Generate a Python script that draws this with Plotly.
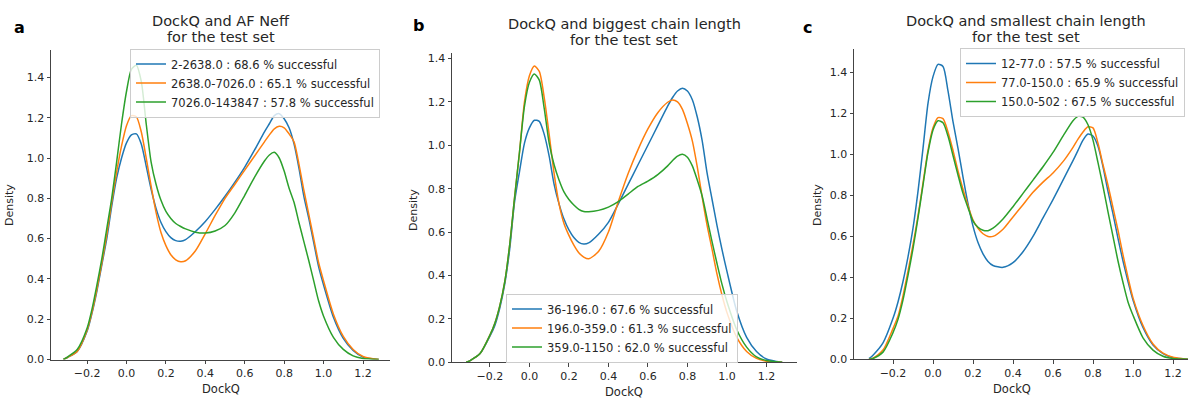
import plotly.graph_objects as go

# ---------------- data ----------------
dockq_grid = [-0.32, -0.30, -0.25, -0.20, -0.175, -0.15, -0.125, -0.10, -0.075, -0.05,
              -0.025, 0.0, 0.025, 0.05, 0.075, 0.10, 0.125, 0.15, 0.175, 0.20,
              0.225, 0.25, 0.275, 0.30, 0.35, 0.40, 0.45, 0.50, 0.55, 0.60,
              0.65, 0.70, 0.725, 0.75, 0.775, 0.80, 0.825, 0.85, 0.875, 0.90,
              0.925, 0.95, 0.975, 1.00, 1.05, 1.10, 1.15, 1.20, 1.25, 1.28]

# panel a: AF Neff
neff_labels = ["2-2638.0 : 68.6 % successful",
               "2638.0-7026.0 : 65.1 % successful",
               "7026.0-143847 : 57.8 % successful"]
neff_low = [0.0, 0.01, 0.04, 0.14, 0.23, 0.34, 0.47, 0.60, 0.76, 0.90,
            1.00, 1.075, 1.115, 1.12, 1.07, 0.96, 0.845, 0.75, 0.68, 0.635,
            0.605, 0.59, 0.587, 0.595, 0.635, 0.685, 0.745, 0.81, 0.88, 0.955,
            1.04, 1.13, 1.17, 1.21, 1.22, 1.195, 1.15, 1.07, 0.95, 0.81,
            0.70, 0.58, 0.46, 0.37, 0.21, 0.105, 0.045, 0.012, 0.003, 0.0]
neff_mid = [0.0, 0.01, 0.04, 0.145, 0.235, 0.35, 0.48, 0.62, 0.78, 0.93,
            1.06, 1.16, 1.21, 1.205, 1.13, 1.00, 0.86, 0.73, 0.63, 0.565,
            0.52, 0.495, 0.485, 0.49, 0.54, 0.625, 0.715, 0.80, 0.87, 0.94,
            1.01, 1.08, 1.115, 1.145, 1.157, 1.15, 1.12, 1.08, 0.97, 0.84,
            0.72, 0.60, 0.48, 0.39, 0.225, 0.115, 0.05, 0.015, 0.004, 0.0]
neff_high = [0.0, 0.012, 0.05, 0.155, 0.25, 0.37, 0.50, 0.65, 0.80, 0.98,
             1.17, 1.33, 1.44, 1.46, 1.38, 1.17, 0.98, 0.87, 0.79, 0.735,
             0.70, 0.675, 0.66, 0.648, 0.632, 0.628, 0.638, 0.665, 0.728, 0.815,
             0.905, 0.985, 1.015, 1.028, 1.00, 0.935, 0.85, 0.78, 0.68, 0.585,
             0.49, 0.39, 0.29, 0.215, 0.11, 0.05, 0.018, 0.005, 0.001, 0.0]

# panel b: biggest chain length
big_labels = ["36-196.0 : 67.6 % successful",
              "196.0-359.0 : 61.3 % successful",
              "359.0-1150 : 62.0 % successful"]
big_low = [0.0, 0.008, 0.04, 0.12, 0.17, 0.25, 0.36, 0.52, 0.74, 0.88,
           1.01, 1.08, 1.115, 1.11, 1.05, 0.95, 0.82, 0.73, 0.66, 0.61,
           0.575, 0.553, 0.545, 0.55, 0.59, 0.645, 0.73, 0.82, 0.91, 1.00,
           1.09, 1.18, 1.22, 1.25, 1.263, 1.25, 1.21, 1.13, 1.02, 0.87,
           0.75, 0.63, 0.52, 0.42, 0.235, 0.115, 0.05, 0.015, 0.004, 0.0]
big_mid = [0.0, 0.008, 0.04, 0.125, 0.18, 0.26, 0.37, 0.54, 0.76, 0.97,
           1.20, 1.32, 1.365, 1.34, 1.22, 1.05, 0.87, 0.73, 0.64, 0.585,
           0.54, 0.505, 0.485, 0.477, 0.51, 0.60, 0.74, 0.87, 0.98, 1.075,
           1.15, 1.198, 1.209, 1.20, 1.165, 1.10, 1.02, 0.90, 0.76, 0.63,
           0.52, 0.406, 0.31, 0.23, 0.115, 0.05, 0.018, 0.005, 0.001, 0.0]
big_high = [0.0, 0.008, 0.04, 0.125, 0.18, 0.26, 0.37, 0.54, 0.76, 0.97,
            1.18, 1.29, 1.328, 1.30, 1.17, 1.01, 0.91, 0.84, 0.785, 0.75,
            0.725, 0.705, 0.695, 0.694, 0.70, 0.715, 0.74, 0.775, 0.81, 0.835,
            0.865, 0.905, 0.93, 0.95, 0.958, 0.945, 0.905, 0.84, 0.765, 0.66,
            0.555, 0.455, 0.36, 0.28, 0.15, 0.07, 0.025, 0.008, 0.002, 0.0]

# panel c: smallest chain length
small_labels = ["12-77.0 : 57.5 % successful",
                "77.0-150.0 : 65.9 % successful",
                "150.0-502 : 67.5 % successful"]
small_low = [0.003, 0.02, 0.08, 0.20, 0.28, 0.38, 0.50, 0.64, 0.82, 1.03,
             1.25, 1.38, 1.44, 1.43, 1.31, 1.16, 1.03, 0.89, 0.76, 0.65,
             0.57, 0.515, 0.478, 0.458, 0.449, 0.472, 0.525, 0.60, 0.69, 0.78,
             0.875, 0.97, 1.02, 1.07, 1.10, 1.09, 1.04, 0.94, 0.82, 0.71,
             0.59, 0.48, 0.38, 0.29, 0.155, 0.07, 0.028, 0.008, 0.002, 0.0]
small_mid = [0.0, 0.005, 0.045, 0.15, 0.21, 0.31, 0.43, 0.56, 0.70, 0.86,
             1.02, 1.13, 1.18, 1.175, 1.11, 1.02, 0.92, 0.83, 0.75, 0.68,
             0.64, 0.613, 0.60, 0.60, 0.635, 0.695, 0.755, 0.815, 0.865, 0.91,
             0.965, 1.035, 1.075, 1.11, 1.135, 1.13, 1.055, 0.95, 0.85, 0.74,
             0.63, 0.51, 0.40, 0.30, 0.165, 0.075, 0.03, 0.01, 0.003, 0.0]
small_high = [0.0, 0.004, 0.035, 0.13, 0.195, 0.29, 0.41, 0.54, 0.69, 0.85,
              1.01, 1.12, 1.165, 1.155, 1.09, 0.995, 0.90, 0.81, 0.74, 0.675,
              0.645, 0.63, 0.628, 0.64, 0.685, 0.745, 0.81, 0.875, 0.94, 1.01,
              1.09, 1.165, 1.186, 1.182, 1.145, 1.07, 0.96, 0.845, 0.72, 0.60,
              0.48, 0.375, 0.28, 0.215, 0.105, 0.045, 0.015, 0.004, 0.001, 0.0]

panel_title_lines = [["DockQ and AF Neff", "for the test set"],
                     ["DockQ and biggest chain length", "for the test set"],
                     ["DockQ and smallest chain length", "for the test set"]]
panel_letters = ["a", "b", "c"]
x_tick_vals = [-0.2, 0.0, 0.2, 0.4, 0.6, 0.8, 1.0, 1.2]
x_tick_text = ["\u22120.2", "0.0", "0.2", "0.4", "0.6", "0.8", "1.0", "1.2"]
y_tick_vals = [0.0, 0.2, 0.4, 0.6, 0.8, 1.0, 1.2, 1.4]
y_tick_text = ["0.0", "0.2", "0.4", "0.6", "0.8", "1.0", "1.2", "1.4"]

# ---------------- styling ----------------
W, H = 1188, 398
FONT = "DejaVu Sans"
TXT = "#262626"
AX = "#444444"
colors = ["#1f77b4", "#ff7f0e", "#2ca02c"]


def px(x):
    return x / W


def py(y):
    return 1 - y / H


panels = [
    dict(series=[neff_low, neff_mid, neff_high], labels=neff_labels,
         xdom=(51, 390), ydom=(359.5, 50), xr=(-0.383, 1.337), yr=(0, 1.536),
         legend=(130, 48.5), letter=(19, 28), title=(221, 20.7, 36.7),
         ylab=(10, 205), xlab=(221, 389)),
    dict(series=[big_low, big_mid, big_high], labels=big_labels,
         xdom=(452, 797), ydom=(362.3, 53), xr=(-0.392, 1.355), yr=(0, 1.425),
         legend=(506, 293.5), letter=(418, 26), title=(624, 24, 39.5),
         ylab=(414, 210), xlab=(624, 391.5)),
    dict(series=[small_low, small_mid, small_high], labels=small_labels,
         xdom=(854, 1188), ydom=(359.3, 49), xr=(-0.395, 1.275), yr=(0, 1.515),
         legend=(960, 48), letter=(807, 28), title=(1026, 20.7, 36.5),
         ylab=(818, 205), xlab=(1012, 389)),
]

fig = go.Figure()
annotations = []
layout = {}
for i, p in enumerate(panels):
    sfx = "" if i == 0 else str(i + 1)
    leg = "legend" if i == 0 else "legend" + str(i + 1)
    for j, ys in enumerate(p["series"]):
        fig.add_trace(go.Scatter(
            x=dockq_grid, y=ys, mode="lines", name=p["labels"][j],
            line=dict(color=colors[j], width=1.5, shape="spline", smoothing=0.7),
            xaxis="x" + sfx, yaxis="y" + sfx, legend=leg, showlegend=True))
    common = dict(showgrid=False, zeroline=False, showline=True, linecolor=AX,
                  linewidth=1, ticks="outside", ticklen=3.5, tickwidth=1,
                  tickcolor=AX, automargin=False,
                  tickfont=dict(family=FONT, size=11, color=TXT))
    layout["xaxis" + sfx] = dict(common, domain=[px(p["xdom"][0]), px(p["xdom"][1])],
                                 range=list(p["xr"]), anchor="y" + sfx,
                                 tickvals=x_tick_vals, ticktext=x_tick_text)
    layout["yaxis" + sfx] = dict(common, domain=[py(p["ydom"][0]), py(p["ydom"][1])],
                                 range=list(p["yr"]), anchor="x" + sfx,
                                 tickvals=y_tick_vals, ticktext=y_tick_text)
    layout[leg] = dict(x=px(p["legend"][0]), y=py(p["legend"][1]),
                       xanchor="left", yanchor="top",
                       bgcolor="rgba(255,255,255,0.8)", bordercolor="#cccccc",
                       borderwidth=1, font=dict(family=FONT, size=11.5, color=TXT),
                       itemwidth=30, tracegroupgap=0)
    for k, line_txt in enumerate(panel_title_lines[i]):
        annotations.append(dict(text=line_txt, x=px(p["title"][0]),
                                y=py(p["title"][1 + k]),
                                xref="paper", yref="paper", showarrow=False,
                                xanchor="center", yanchor="middle",
                                font=dict(family=FONT, size=14.5, color=TXT)))
    annotations.append(dict(text="<b>" + panel_letters[i] + "</b>", x=px(p["letter"][0]),
                            y=py(p["letter"][1]), xref="paper", yref="paper",
                            showarrow=False, xanchor="center", yanchor="middle",
                            font=dict(family=FONT, size=16, color="#000000")))
    annotations.append(dict(text="Density", x=px(p["ylab"][0]), y=py(p["ylab"][1]),
                            xref="paper", yref="paper", showarrow=False, textangle=-90,
                            xanchor="center", yanchor="middle",
                            font=dict(family=FONT, size=11, color=TXT)))
    annotations.append(dict(text="DockQ", x=px(p["xlab"][0]), y=py(p["xlab"][1]),
                            xref="paper", yref="paper", showarrow=False,
                            xanchor="center", yanchor="middle",
                            font=dict(family=FONT, size=11.5, color=TXT)))

fig.update_layout(width=W, height=H, margin=dict(l=0, r=0, t=0, b=0, pad=0),
                  paper_bgcolor="white", plot_bgcolor="white",
                  annotations=annotations, **layout)

fig.write_html("out.html", config={"displayModeBar": False},
               post_script="document.body.style.margin='0px';")
